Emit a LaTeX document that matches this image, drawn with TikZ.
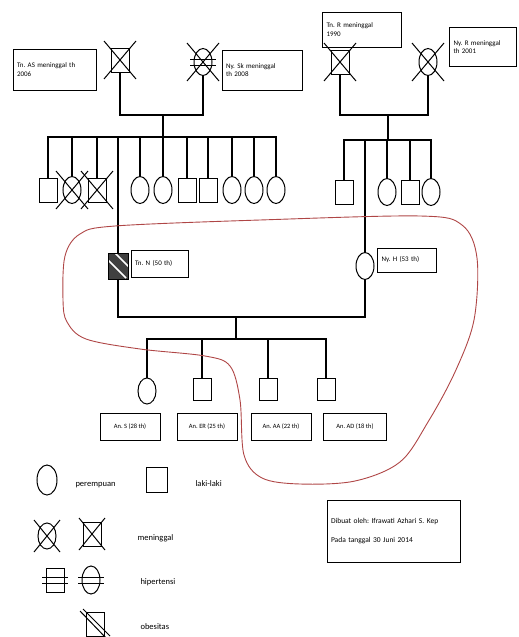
\documentclass[tikz,border=0pt]{standalone}
\usepackage{fontspec}
\setmainfont{Carlito}
\usepackage{tikz}
\usetikzlibrary{calc, shapes.geometric}
\frenchspacing

\definecolor{batas}{RGB}{175,70,70}
\tikzset{
  laki/.style={draw, rectangle, line width=1pt, minimum width=18pt, minimum height=24pt, inner sep=0pt},
  pr/.style={draw, ellipse, line width=1pt, minimum width=18pt, minimum height=27pt, inner sep=0pt},
  ket/.style={draw, rectangle, line width=0.8pt, font=\fontsize{7}{8.5}\selectfont, align=left, inner sep=4pt},
  anak/.style={draw, rectangle, line width=0.8pt, font=\fontsize{6.5}{8}\selectfont, minimum width=60pt, minimum height=27pt},
  leg/.style={font=\fontsize{8.5}{10}\selectfont, anchor=west},
  garis/.style={line width=1.3pt}
}
\newcommand{\meninggal}[2][16]{\draw[line width=1pt] ($(#2)+(-#1,-#1-3)$) -- ($(#2)+(#1,#1+3)$) ($(#2)+(#1,-#1-3)$) -- ($(#2)+(-#1,#1+3)$);}
\newcommand{\hipertensi}[1]{\draw[line width=1pt] ($(#1)+(-13,-3)$) -- ($(#1)+(13,-3)$) ($(#1)+(-13,3)$) -- ($(#1)+(13,3)$);}

\begin{document}
\begin{tikzpicture}[x=1pt, y=-1pt]
\useasboundingbox (0,0) rectangle (519,637);

% kakek nenek dari ayah
\node[laki] (akek) at (120,60) {};
\node[pr] (anek) at (203,62) {};
\meninggal{akek}
\meninggal{anek}
\hipertensi{anek}
\node[ket, text width=75pt, minimum height=41pt] (kakek) at (54.5,69.5) {Tn. AS meninggal th\\2006};
\node[ket, text width=72pt, minimum height=40pt] (kanek) at (262,70) {Ny. Sk meninggal\\th 2008};

% kakek nenek dari ibu
\node[laki] (bkek) at (340,62) {};
\node[pr] (bnek) at (428,62) {};
\meninggal{bkek}
\meninggal{bnek}
\node[ket, text width=71pt, minimum height=35pt] (kbkek) at (362,29.5) {Tn. R meninggal\\1990};
\node[ket, text width=59pt, minimum height=39pt] (kbnek) at (483,47) {Ny. R meninggal\\th 2001};

\coordinate (m1) at (163,115);
\coordinate (s1) at (163,137);
\draw[garis] (akek.south) |- (m1) -| (anek.south);
\draw[garis] (m1) -- (s1);
\coordinate (m2) at (388,115);
\coordinate (s2) at (388,140);
\draw[garis] (bkek.south) |- (m2) -| (bnek.south);
\draw[garis] (m2) -- (s2);

% saudara ayah
\foreach \x/\n in {48/a1,97/a3,187/a6,208/a7}
  \node[laki] (\n) at (\x,190) {};
\foreach \x/\n in {72/a2,140/a4,163/a5,232/a8,254/a9,276/a10}
  \node[pr] (\n) at (\x,190) {};
\foreach \n in {a1,a2,a3,a4,a5,a6,a7,a8,a9,a10}
  \draw[garis] (\n.north) |- (s1);
\meninggal{a2}
\meninggal{a3}

% saudara ibu
\foreach \x/\n in {344/b1,410/b3}
  \node[laki] (\n) at (\x,192) {};
\foreach \x/\n in {387/b2,431/b4}
  \node[pr] (\n) at (\x,192) {};
\foreach \n in {b1,b2,b3,b4}
  \draw[garis] (\n.north) |- (s2);

% ayah dan ibu
\node[laki, minimum height=26pt, minimum width=20pt, fill=black!75,
  path picture={\draw[white, line width=1.6pt]
    ($(path picture bounding box.center)+(-16,-12)$) -- ++(24,24)
    ($(path picture bounding box.center)+(-8,-18)$) -- ++(24,24);}] (tnN) at (118,266) {};
\node[pr] (nyH) at (365,266) {};
\node[ket, text width=49pt, minimum height=27pt] (ktnN) at (159.5,263.5) {Tn. N (50 th)};
\node[ket, text width=51pt, minimum height=24pt] (knyH) at (407,260) {Ny. H (53 th)};
\draw[garis] (tnN.north) |- (s1);
\draw[garis] (nyH.north) |- (s2);

\coordinate (m3) at (236,317);
\coordinate (s3) at (236,339);
\draw[garis] (tnN.south) |- (m3) -| (nyH.south);
\draw[garis] (m3) -- (s3);

% anak
\node[pr, minimum height=26pt] (c1) at (147,391) {};
\foreach \x/\n in {202/c2,268/c3,326/c4}
  \node[laki, minimum height=22pt] (\n) at (\x,389) {};
\foreach \n in {c1,c2,c3,c4}
  \draw[garis] (\n.north) |- (s3);
\node[anak] (kc1) at (130,427) {An. S (28 th)};
\node[anak] (kc2) at (207,427) {An. ER (25 th)};
\node[anak] (kc3) at (281,427) {An. AA (22 th)};
\node[anak, minimum width=63pt] (kc4) at (355,427) {An. AD (18 th)};

% garis serumah
\draw[batas, line width=0.9pt] plot[smooth cycle, tension=0.55] coordinates {
  (63,300) (65,256) (80,234) (115,226) (260,220) (420,216) (462,225)
  (477,258) (474,320) (455,372) (428,422) (400,462) (355,481) (300,484)
  (262,478) (244,455) (240,400) (230,366) (205,356) (140,349) (86,339) (67,322)};

% keterangan
\node[pr, minimum height=30pt, minimum width=20pt] (lpr) at (47,480) {};
\node[leg] (tpr) at (72,485) {perempuan};
\node[laki, minimum width=21pt, minimum height=25pt] (llk) at (157,480) {};
\node[leg] (tlk) at (192,484) {laki-laki};
\node[pr, minimum height=26pt] (lmpr) at (47,536) {};
\node[laki, minimum height=24pt] (lmlk) at (92,534) {};
\meninggal[13]{lmpr}
\meninggal[13]{lmlk}
\node[leg] (tm) at (134,538) {meninggal};
\node[laki, minimum height=24pt] (lhlk) at (55,580) {};
\node[pr, minimum height=28pt] (lhpr) at (91,580) {};
\hipertensi{lhlk}
\hipertensi{lhpr}
\node[leg] (th) at (137,582) {hipertensi};
\node[laki, minimum height=24pt] (lob) at (95,624) {};
\draw[line width=1pt] ($(lob)+(-15,-13)$) -- ($(lob)+(12,15)$) ($(lob)+(-12,-15)$) -- ($(lob)+(15,12)$);
\node[leg] (to) at (137,627) {obesitas};

\node[ket, font=\fontsize{7.5}{9}\selectfont, text width=125pt, minimum height=62pt] (buat) at (393.5,531) {Dibuat oleh: Ifrawati Azhari S. Kep\\[10pt]Pada tanggal 30 Juni 2014};
\end{tikzpicture}
\end{document}
